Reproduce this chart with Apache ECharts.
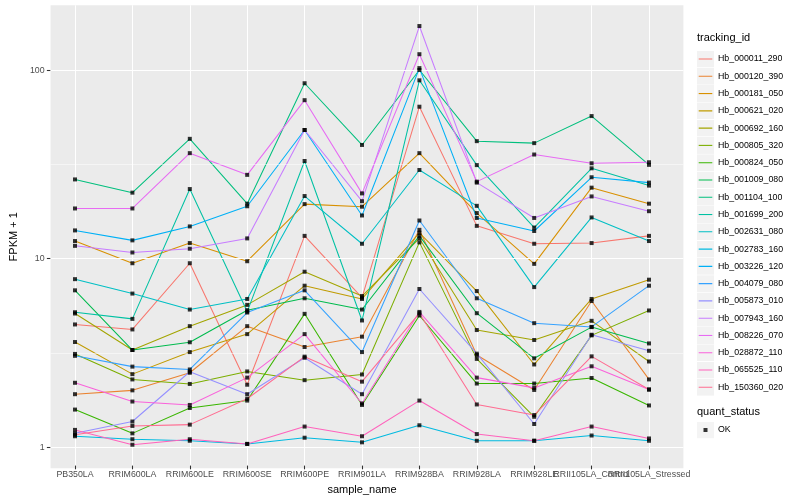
<!DOCTYPE html>
<html><head><meta charset="utf-8">
<script src="https://cdn.jsdelivr.net/npm/echarts@6/dist/echarts.min.js"></script>
<style>html,body{margin:0;padding:0;background:#fff}#c{width:800px;height:500px}</style>
</head><body><div id="c"></div>
<script>
const categories = ["PB350LA","RRIM600LA","RRIM600LE","RRIM600SE","RRIM600PE","RRIM901LA","RRIM928BA","RRIM928LA","RRIM928LE","RRII105LA_Control","RRII105LA_Stressed"];
const trackingIds = ["Hb_000011_290","Hb_000120_390","Hb_000181_050","Hb_000621_020","Hb_000692_160","Hb_000805_320","Hb_000824_050","Hb_001009_080","Hb_001104_100","Hb_001699_200","Hb_002631_080","Hb_002783_160","Hb_003226_120","Hb_004079_080","Hb_005873_010","Hb_007943_160","Hb_008226_070","Hb_028872_110","Hb_065525_110","Hb_150360_020"];
const yTickLabels = [1, 10, 100];
const quantStatus = ["OK"];

const hb_000011_290 = [4.38, 4.12, 9.29, 2.09, 13.0, 6.09, 63.5, 14.7, 11.8, 11.9, 13.0];
const hb_000120_390 = [1.86, 1.95, 2.42, 4.29, 3.32, 3.77, 14.0, 3.01, 1.96, 5.84, 2.23];
const hb_000181_050 = [12.2, 9.29, 11.9, 9.52, 19.2, 18.6, 35.9, 17.2, 9.22, 23.5, 19.3];
const hb_000621_020 = [3.53, 2.38, 3.12, 3.89, 7.05, 5.99, 13.5, 6.60, 2.68, 5.99, 7.59];
const hb_000692_160 = [5.01, 3.20, 4.29, 5.57, 8.37, 6.21, 12.6, 4.09, 3.62, 4.58, 2.78];
const hb_000805_320 = [3.05, 2.23, 2.11, 2.46, 2.21, 2.37, 12.0, 2.87, 1.41, 3.83, 5.20];
const hb_000824_050 = [1.54, 1.15, 1.57, 1.72, 4.99, 1.63, 4.89, 2.12, 2.12, 2.27, 1.62];
const hb_001009_080 = [6.66, 3.20, 3.52, 5.22, 6.04, 5.26, 13.0, 5.03, 2.89, 4.24, 3.47];
const hb_001104_100 = [26.0, 22.1, 42.8, 19.3, 84.7, 39.7, 99.7, 41.6, 40.6, 56.6, 31.1];
const hb_001699_200 = [5.09, 4.69, 23.1, 5.13, 32.6, 4.60, 87.8, 31.0, 14.4, 29.8, 24.1];
const hb_002631_080 = [7.64, 6.40, 5.26, 5.99, 21.2, 11.8, 29.2, 18.8, 6.93, 16.3, 12.2];
const hb_002783_160 = [1.11, 1.07, 1.05, 1.01, 1.09, 1.03, 1.27, 1.05, 1.05, 1.12, 1.05];
const hb_003226_120 = [13.9, 12.3, 14.6, 18.7, 47.7, 16.7, 102, 16.2, 13.8, 26.7, 25.0];
const hb_004079_080 = [2.98, 2.61, 2.52, 5.07, 6.66, 3.12, 15.7, 6.04, 4.45, 4.25, 7.05];
const hb_005873_010 = [1.15, 1.33, 2.45, 1.86, 2.91, 1.86, 6.77, 3.06, 1.29, 3.86, 3.17];
const hb_007943_160 = [11.5, 10.6, 11.1, 12.6, 47.7, 19.9, 171, 25.0, 16.2, 21.1, 17.6];
const hb_008226_070 = [18.2, 18.2, 35.9, 27.5, 68.8, 21.9, 121, 25.3, 35.3, 31.7, 32.1];
const hb_028872_110 = [2.14, 1.70, 1.63, 2.28, 3.89, 1.66, 5.11, 2.28, 2.01, 2.62, 1.97];
const hb_065525_110 = [1.20, 1.00, 1.07, 1.01, 1.25, 1.11, 1.72, 1.14, 1.05, 1.25, 1.08];
const hb_150360_020 = [1.13, 1.26, 1.28, 1.76, 2.95, 2.17, 5.03, 1.64, 1.44, 2.96, 1.97];

const seriesValues = [hb_000011_290, hb_000120_390, hb_000181_050, hb_000621_020, hb_000692_160,
  hb_000805_320, hb_000824_050, hb_001009_080, hb_001104_100, hb_001699_200, hb_002631_080,
  hb_002783_160, hb_003226_120, hb_004079_080, hb_005873_010, hb_007943_160, hb_008226_070,
  hb_028872_110, hb_065525_110, hb_150360_020];

const palette = ["#F8766D","#EA8331","#D89000","#C09B00","#A3A500","#7CAE00","#39B600","#00BB4E","#00BF7D","#00C1A3","#00BFC4","#00BAE0","#00B0F6","#35A2FF","#9590FF","#C77CFF","#E76BF3","#FA62DB","#FF62BC","#FF6C91"];

const FONT = "'Liberation Sans', Arial, Helvetica, sans-serif";
const PANEL = {left: 40.6, right: 116.6, top: 5.3, bottom: 31.7};
const CAT = {left: 75, right: 151, top: 5.3, bottom: 31.7};
const Y_MIN = 0.774, Y_MAX = 220.6;

function svgIcon(inner) {
  const svg = '<svg xmlns="http://www.w3.org/2000/svg" width="17" height="17">' +
    '<rect x="0" y="0" width="17" height="17" fill="#F2F2F2"/>' + inner + '</svg>';
  return 'image://data:image/svg+xml;charset=utf-8,' + encodeURIComponent(svg);
}
const lineIcon = c => svgIcon('<line x1="1.7" y1="8.5" x2="15.3" y2="8.5" stroke="' + c + '" stroke-width="1.1"/>');
const pointIcon = svgIcon('<rect x="6.5" y="6.5" width="4" height="4" fill="#000"/>');

const lineSeries = trackingIds.map((id, i) => ({
  name: id, type: 'line', xAxisIndex: 1, yAxisIndex: 1,
  data: seriesValues[i], showSymbol: false, symbol: 'none',
  lineStyle: {color: palette[i], width: 1.05}, itemStyle: {color: palette[i]},
  z: 3, silent: true, animation: false
}));

const pointData = [];
seriesValues.forEach(vals => vals.forEach((v, j) => pointData.push([categories[j], v])));

const gridSeries = {
  name: '_grid', type: 'line', xAxisIndex: 0, yAxisIndex: 0, data: [], z: 1, silent: true,
  markLine: {
    silent: true, symbol: ['none', 'none'], label: {show: false}, animation: false,
    data: [
      {yAxis: 1, lineStyle: {color: '#fff', width: 1.07, type: 'solid'}},
      {yAxis: 10, lineStyle: {color: '#fff', width: 1.07, type: 'solid'}},
      {yAxis: 100, lineStyle: {color: '#fff', width: 1.07, type: 'solid'}},
      {yAxis: Math.sqrt(10), lineStyle: {color: '#fff', width: 0.53, type: 'solid'}},
      {yAxis: Math.sqrt(1000), lineStyle: {color: '#fff', width: 0.53, type: 'solid'}}
    ]
  }
};

const option = {
  animation: false,
  backgroundColor: '#fff',
  textStyle: {fontFamily: FONT},
  title: [
    {text: 'tracking_id', left: 697, top: 32, padding: 0, textStyle: {fontSize: 11, fontWeight: 'normal', color: '#000', fontFamily: FONT}},
    {text: 'quant_status', left: 697, top: 406, padding: 0, textStyle: {fontSize: 11, fontWeight: 'normal', color: '#000', fontFamily: FONT}}
  ],
  legend: [
    {
      data: trackingIds.map((id, i) => ({name: id, icon: lineIcon(palette[i])})),
      orient: 'vertical', left: 697, top: 50.5, padding: 0,
      itemWidth: 17, itemHeight: 17, itemGap: 0.28, selectedMode: false,
      textStyle: {fontSize: 8.8, color: '#000', fontFamily: FONT, padding: [0, 0, 0, -1]}
    },
    {
      data: quantStatus.map(s => ({name: s, icon: pointIcon})),
      orient: 'vertical', left: 697, top: 421.5, padding: 0,
      itemWidth: 17, itemHeight: 17, selectedMode: false,
      textStyle: {fontSize: 8.8, color: '#000', fontFamily: FONT, padding: [0, 0, 0, -1]}
    }
  ],
  grid: [
    Object.assign({show: true, backgroundColor: '#EBEBEB', borderWidth: 0, containLabel: false}, PANEL),
    Object.assign({show: false, containLabel: false}, CAT)
  ],
  xAxis: [
    {type: 'value', gridIndex: 0, min: 0, max: 1, show: false},
    {
      type: 'category', gridIndex: 1, data: categories, boundaryGap: false,
      axisLine: {show: false},
      axisTick: {show: true, length: 3.7, lineStyle: {color: '#333333', width: 1.07}},
      axisLabel: {interval: 0, color: '#4D4D4D', fontSize: 8.8, margin: 4.5, fontFamily: FONT},
      splitLine: {show: true, lineStyle: {color: '#fff', width: 1.07}},
      name: 'sample_name', nameLocation: 'middle', nameGap: 15,
      nameTextStyle: {fontSize: 11, color: '#000', fontFamily: FONT}
    }
  ],
  yAxis: [
    {
      type: 'log', logBase: 10, gridIndex: 0, min: Y_MIN, max: Y_MAX,
      axisLine: {show: false},
      axisTick: {show: true, length: 3.7, customValues: yTickLabels, lineStyle: {color: '#333333', width: 1.07}},
      axisLabel: {color: '#4D4D4D', fontSize: 8.8, margin: 6, customValues: yTickLabels, fontFamily: FONT,
        formatter: v => String(Math.round(v))},
      splitLine: {show: false}, minorSplitLine: {show: false},
      name: 'FPKM + 1', nameLocation: 'middle', nameGap: 24,
      nameTextStyle: {fontSize: 11, color: '#000', fontFamily: FONT}
    },
    {type: 'log', logBase: 10, gridIndex: 1, min: Y_MIN, max: Y_MAX, show: false, splitLine: {show: false}}
  ],
  series: [gridSeries].concat(lineSeries).concat([{
    name: 'OK', type: 'scatter', xAxisIndex: 1, yAxisIndex: 1, data: pointData,
    symbol: 'rect', symbolSize: 4, itemStyle: {color: '#000'}, z: 5, silent: true, animation: false
  }])
};

const chart = echarts.init(document.getElementById('c'), null, {renderer: 'canvas'});
chart.setOption(option);
</script>
</body></html>
